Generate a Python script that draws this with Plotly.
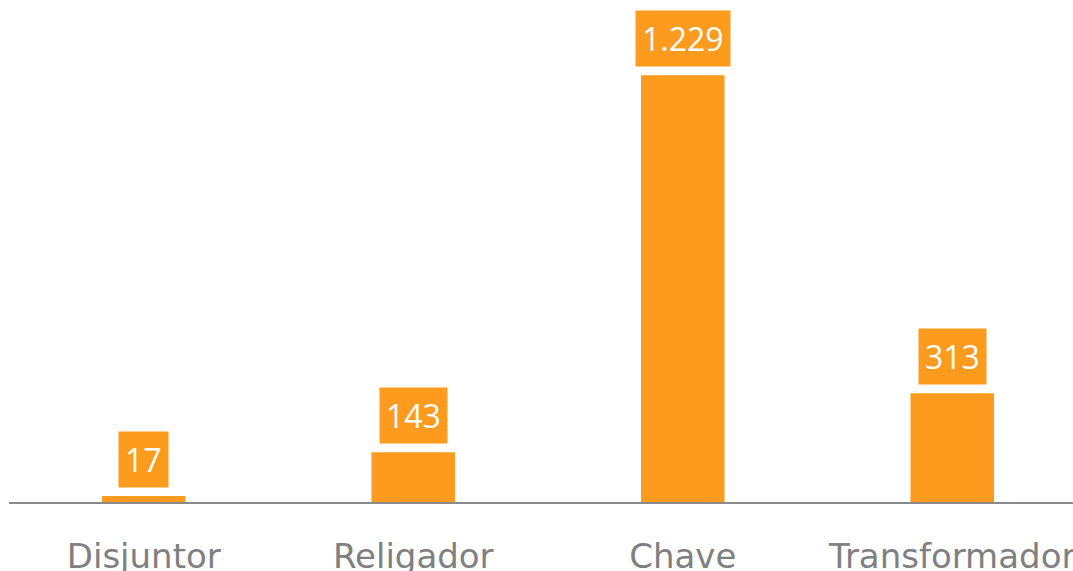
import plotly.graph_objects as go

categories = ["Disjuntor", "Religador", "Chave", "Transformador"]
values = [17, 143, 1229, 313]
value_labels = ["17", "143", "1.229", "313"]

orange = "#FD9B1E"

fig = go.Figure(go.Bar(x=categories, y=values, marker=dict(color=orange, line=dict(width=0)),
                       width=0.31, hoverinfo="skip"))

for c, v, t in zip(categories, values, value_labels):
    fig.add_annotation(x=c, y=v, text=t, showarrow=False, yanchor="bottom", yshift=8,
                       font=dict(family="Open Sans", size=32, color="white"),
                       bgcolor=orange, borderpad=6)

fig.update_layout(
    width=1073, height=571,
    margin=dict(l=9, r=0, t=20, b=69, autoexpand=False),
    plot_bgcolor="white", paper_bgcolor="white",
    showlegend=False,
    xaxis=dict(range=[-0.5, 3.448], showline=True, linecolor="#8a8a8a", linewidth=2,
               ticks="", tickfont=dict(family="DejaVu Sans", size=34, color="#808080"),
               ticklabelstandoff=23, showgrid=False, zeroline=False, fixedrange=True,
               automargin=False),
    yaxis=dict(range=[0, 1388], visible=False, showgrid=False, zeroline=False,
               automargin=False),
)

fig.write_html("out.html", config={"displayModeBar": False},
               post_script="document.body.style.margin='0';document.body.style.overflow='hidden';")
